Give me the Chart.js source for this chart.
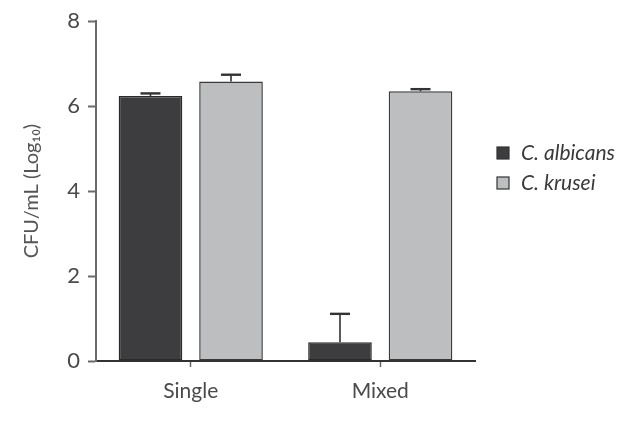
<!DOCTYPE html>
<html>
<head>
<meta charset="utf-8">
<script src="https://cdn.jsdelivr.net/npm/chart.js@4"></script>
<style>
  html, body { margin: 0; padding: 0; background: #fff; }
  #wrap { width: 644px; height: 427px; }
</style>
</head>
<body>
<div id="wrap"><canvas id="grafico"></canvas></div>
<script>
// dados
const categorias = ['Single', 'Mixed'];
const albicans = [6.24, 0.44];
const albicansErro = [0.06, 0.67];
const krusei = [6.58, 6.35];
const kruseiErro = [0.16, 0.05];
const ticksY = [0, 2, 4, 6, 8];

const fonte = "'Lato', 'Open Sans', sans-serif";
const cinzaEixo = '#6a6a6a';

// barras de erro (só para cima)
const errorBars = {
    id: 'errorBars',
    afterDatasetsDraw(chart) {
        const ctx = chart.ctx;
        const y = chart.scales.y;
        chart.data.datasets.forEach((ds, i) => {
            const meta = chart.getDatasetMeta(i);
            meta.data.forEach((bar, j) => {
                const topo = y.getPixelForValue(ds.data[j]);
                const fim = y.getPixelForValue(ds.data[j] + ds.erros[j]);
                ctx.save();
                ctx.strokeStyle = '#333';
                ctx.lineWidth = 1.6;
                ctx.beginPath();
                ctx.moveTo(bar.x, topo);
                ctx.lineTo(bar.x, fim);
                ctx.stroke();
                ctx.lineWidth = 2.4;
                ctx.beginPath();
                ctx.moveTo(bar.x - 10, fim);
                ctx.lineTo(bar.x + 10, fim);
                ctx.stroke();
                ctx.restore();
            });
        });
    }
};

// legenda à direita
const legenda = {
    id: 'legenda',
    afterDraw(chart) {
        const ctx = chart.ctx;
        ctx.save();
        chart.data.datasets.forEach((ds, i) => {
            const yc = 153 + i * 30;
            ctx.fillStyle = ds.backgroundColor;
            ctx.strokeStyle = '#333';
            ctx.lineWidth = 1.2;
            ctx.fillRect(497, yc - 6, 12, 12);
            ctx.strokeRect(497, yc - 6, 12, 12);
            ctx.fillStyle = '#3a3a3a';
            ctx.font = 'italic 21px ' + fonte;
            ctx.textBaseline = 'middle';
            ctx.fillText(ds.label, 521, yc);
        });
        ctx.restore();
    }
};

const ctx = document.getElementById('grafico').getContext('2d');
const grafico = new Chart(ctx, {
    type: 'bar',
    data: {
        labels: categorias,
        datasets: [{
            label: 'C. albicans',
            data: albicans,
            erros: albicansErro,
            backgroundColor: '#3d3d3f',
            borderColor: '#2a2a2a',
            borderWidth: 1.5,
            borderSkipped: false,
            categoryPercentage: 0.85,
            barPercentage: 0.79
        }, {
            label: 'C. krusei',
            data: krusei,
            erros: kruseiErro,
            backgroundColor: '#bdbebf',
            borderColor: '#3a3a3a',
            borderWidth: 1.5,
            borderSkipped: false,
            categoryPercentage: 0.85,
            barPercentage: 0.79
        }]
    },
    options: {
        responsive: true,
        maintainAspectRatio: false,
        animation: false,
        layout: { padding: { left: 0, right: 169, top: 19, bottom: 0 } },
        plugins: {
            legend: { display: false },
            tooltip: { enabled: false }
        },
        scales: {
            x: {
                grid: {
                    display: true,
                    drawOnChartArea: false,
                    offset: false,
                    tickLength: 6,
                    color: cinzaEixo,
                    tickWidth: 1.5
                },
                border: { color: '#333', width: 2 },
                ticks: {
                    color: '#4a4a4a',
                    padding: 12,
                    font: { family: fonte, size: 21 }
                },
                afterFit(scale) { scale.height = 66; }
            },
            y: {
                min: 0,
                max: 8,
                afterBuildTicks(scale) {
                    scale.ticks = ticksY.map(v => ({ value: v }));
                },
                grid: {
                    display: true,
                    drawOnChartArea: false,
                    tickLength: 8,
                    color: cinzaEixo,
                    tickWidth: 2
                },
                border: { color: cinzaEixo, width: 2 },
                ticks: {
                    color: '#4a4a4a',
                    padding: 8,
                    font: { family: fonte, size: 22 }
                },
                title: {
                    display: true,
                    text: 'CFU/mL (Log₁₀)',
                    color: '#555',
                    padding: { top: 20, bottom: 0 },
                    font: { family: fonte, size: 20 }
                },
                afterFit(scale) { scale.width = 96; }
            }
        }
    },
    plugins: [errorBars, legenda]
});
</script>
</body>
</html>
